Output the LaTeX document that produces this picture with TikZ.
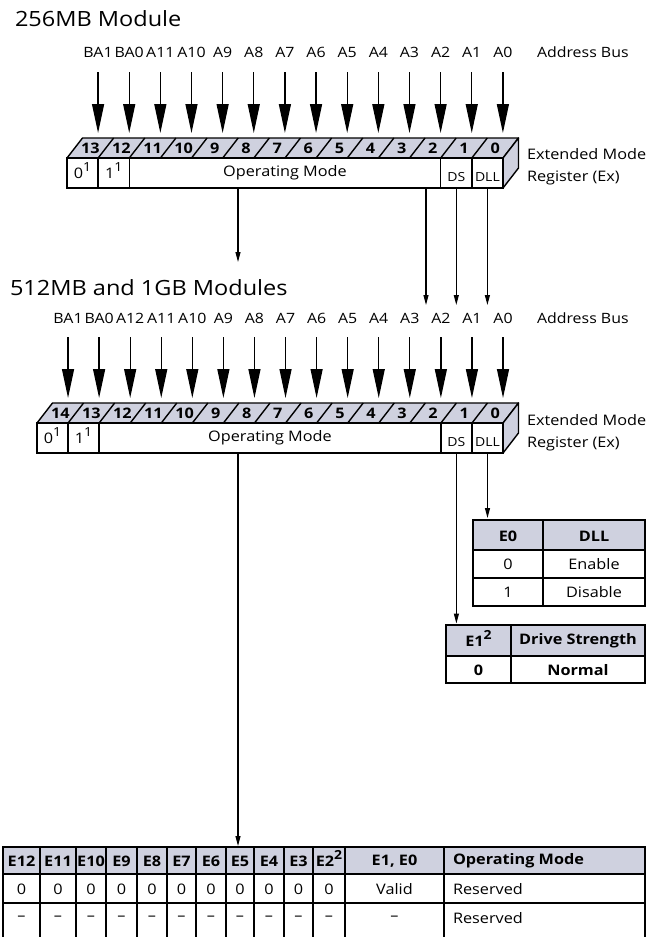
\documentclass[tikz,border=0pt]{standalone}
\usepackage{fontspec}
\setmainfont{Open Sans}[FakeStretch=1.12]
\usetikzlibrary{arrows.meta}
\definecolor{hdr}{RGB}{207,209,223}
\newcommand\supx[1]{\smash{\raisebox{0.45em}{\fontsize{12.5}{12.5}\selectfont #1}}}
\tikzset{
  every node/.style={inner sep=0pt, outer sep=0pt},
  ttl/.style={font=\fontsize{21}{21}\selectfont, anchor=base west},
  buslbl/.style={font=\fontsize{14.2}{14.2}\selectfont, anchor=base},
  regname/.style={font=\fontsize{14.5}{14.5}\selectfont, anchor=base west},
  bitnum/.style={font=\bfseries\fontsize{14.5}{14.5}\selectfont},
  face/.style={draw, fill=hdr, line width=1.4pt, line join=round},
  fcell/.style={draw, fill=white, line width=1.4pt, minimum height=30pt, font=\fontsize{14.5}{14.5}\selectfont},
  smalltxt/.style={font=\fontsize{12.5}{12.5}\selectfont},
  busarrow/.style={line width=1.3pt, -{Triangle[length=29pt,width=12pt]}},
  link/.style={line width=1.1pt, -{Triangle[length=10pt,width=5pt]}},
  tabframe/.style={draw, line width=1.2pt},
  tline/.style={line width=1.2pt},
  tx/.style={font=\fontsize{14.5}{14.5}\selectfont},
  tb/.style={font=\bfseries\fontsize{14.5}{14.5}\selectfont},
}
\begin{document}
\begin{tikzpicture}[x=1pt,y=-1pt]
\useasboundingbox (0,0) rectangle (658,937);
\fill[white] (0,0) rectangle (658,937);

% ---------- titles ----------
\node[ttl] (t1) at (15,26) {256MB Module};
\node[ttl] (t2) at (10,295) {512MB and 1GB Modules};

% ---------- register 1 ----------
\def\wA{31.14}
\path[face] (67,158) -- (82.5,138) -- (518.5,138) -- (503,158) -- cycle;
\path[face] (503,158) -- (518.5,138) -- (518.5,168) -- (503,188) -- cycle;
\foreach \k in {1,...,13} \draw[line width=1.4pt] ({67+\k*\wA},158) -- ++(15.5,-20);
\foreach \t [count=\k from 0] in {13,12,...,0}
  \node[bitnum] at ({67+(\k+0.5)*\wA+7.75},148.5) {\t};
\node[fcell, minimum width=31.14pt] (r1b13) at (82.57,173) {0\supx{1}};
\node[fcell, minimum width=31.14pt] (r1b12) at (113.71,173) {1\supx{1}};
\node[fcell, minimum width=311.4pt] (r1om) at (285,173) {Operating Mode};
\node[fcell, minimum width=31.14pt] (r1ds) at (456.3,173) {};
\node[fcell, minimum width=31.14pt] (r1dll) at (487.4,173) {};
\node[smalltxt, yshift=-4pt] at (r1ds.center) {DS};
\node[smalltxt, yshift=-4pt] at (r1dll.center) {DLL};
\foreach \t [count=\k from 0] in {BA1,BA0,A11,A10,A9,A8,A7,A6,A5,A4,A3,A2,A1,A0} {
  \pgfmathsetmacro\xx{82.5+(\k+0.5)*\wA}
  \node[buslbl] (la\k) at (\xx,57.5) {\t};
  \coordinate (ea\k) at (\xx,133);
  \draw[busarrow] ([yshift=-14.5pt]la\k.base) -- (ea\k);
}
\node[buslbl, anchor=base west] (ab1) at (537,57.5) {Address Bus};
\node[regname] (ex1a) at (527,159) {Extended Mode};
\node[regname] (ex1b) at (527,181) {Register (Ex)};

% ---------- register 2 ----------
\def\wB{31.07}
\path[face] (37,423) -- (52.5,403) -- (518.5,403) -- (503.05,423) -- cycle;
\path[face] (503.05,423) -- (518.5,403) -- (518.5,433) -- (503.05,453) -- cycle;
\foreach \k in {1,...,14} \draw[line width=1.4pt] ({37+\k*\wB},423) -- ++(15.5,-20);
\foreach \t [count=\k from 0] in {14,13,...,0}
  \node[bitnum] at ({37+(\k+0.5)*\wB+7.75},413.5) {\t};
\node[fcell, minimum width=31.07pt] (r2b14) at (52.53,438) {0\supx{1}};
\node[fcell, minimum width=31.07pt] (r2b13) at (83.6,438) {1\supx{1}};
\node[fcell, minimum width=341.8pt] (r2om) at (270.0,438) {Operating Mode};
\node[fcell, minimum width=31.07pt] (r2ds) at (456.4,438) {};
\node[fcell, minimum width=31.07pt] (r2dll) at (487.5,438) {};
\node[smalltxt, yshift=-4pt] at (r2ds.center) {DS};
\node[smalltxt, yshift=-4pt] at (r2dll.center) {DLL};
\foreach \t [count=\k from 0] in {BA1,BA0,A12,A11,A10,A9,A8,A7,A6,A5,A4,A3,A2,A1,A0} {
  \pgfmathsetmacro\xx{52.5+(\k+0.5)*\wB}
  \node[buslbl] (lb\k) at (\xx,323) {\t};
  \coordinate (eb\k) at (\xx,398);
  \draw[busarrow] ([yshift=-14pt]lb\k.base) -- (eb\k);
}
\node[buslbl, anchor=base west] (ab2) at (537,323) {Address Bus};
\node[regname] (ex2a) at (527,425) {Extended Mode};
\node[regname] (ex2b) at (527,447) {Register (Ex)};

% ---------- connectors between registers ----------
\coordinate (x238) at (238,0);
\coordinate (x426) at (426,0);
\coordinate (m1) at (238,262);
\coordinate (m2) at (426,305);
\draw[link] (r1om.south -| x238) -- (m1);
\draw[link] (r1om.south -| x426) -- (m2);
\draw[link] (r1ds.south) -- (r1ds.south |- m2);
\draw[link] (r1dll.south) -- (r1dll.south |- m2);

% ---------- DLL table ----------
\fill[hdr] (473,520) rectangle (645,550);
\node[tabframe, minimum width=172pt, minimum height=86pt] (dlltab) at (559,563) {};
\draw[tline] (473,550) -- (645,550) (473,578) -- (645,578) (543,520) -- (543,606);
\node[tb] at (508,536) {E0};
\node[tb] at (594,536) {DLL};
\node[tx] at (508,564.5) {0};
\node[tx] at (594,564.5) {Enable};
\node[tx] at (508,592.5) {1};
\node[tx] at (594,592.5) {Disable};

% ---------- drive strength table ----------
\fill[hdr] (446,625) rectangle (645,656);
\node[tabframe, minimum width=199pt, minimum height=58pt] (e1tab) at (545.5,654) {};
\draw[tline] (446,656) -- (645,656) (511,625) -- (511,683);
\node[tb] at (478.5,641) {E1\supx{2}};
\node[tb] at (578,641) {Drive Strength};
\node[tb] at (478.5,670) {0};
\node[tb] at (578,670) {Normal};

% ---------- operating mode table ----------
\fill[hdr] (3,847) rectangle (645,874);
\node[tabframe, minimum width=642pt, minimum height=27pt] (bt) at (324,860.5) {};
\draw[tline] (3,874) -- (645,874) (3,903) -- (645,903);
\foreach \c in {3,40,76,106,137,167,196,226,254,284,313,345,444,645}
  \draw[tline] (\c,847) -- (\c,937);
\foreach \t/\x in {E12/21.5,E11/58,E10/91,E9/121.5,E8/152,E7/181.5,E6/211,E5/240,E4/269,E3/298.5} {
  \node[tb] at (\x,861) {\t};
  \node[tx] at (\x,889) {0};
  \node[tx] at (\x,918) {--};
}
\node[tb] at (329,861) {E2\supx{2}};
\node[tx] at (329,889) {0};
\node[tx] at (329,918) {--};
\node[tb] at (394.5,861) {E1, E0};
\node[tx] at (394.5,889) {Valid};
\node[tx] at (394.5,918) {--};
\node[tb, anchor=west] at (453,861) {Operating Mode};
\node[tx, anchor=west] at (453,889) {Reserved};
\node[tx, anchor=west] at (453,918) {Reserved};

% ---------- connectors to tables ----------
\draw[link, shorten >=1pt] (r2om.south -| x238) -- (x238 |- bt.north);
\draw[link, shorten >=1.5pt] (r2ds.south) -- (r2ds.south |- e1tab.north);
\draw[link, shorten >=2pt] (r2dll.south) -- (r2dll.south |- dlltab.north);
\end{tikzpicture}
\end{document}
